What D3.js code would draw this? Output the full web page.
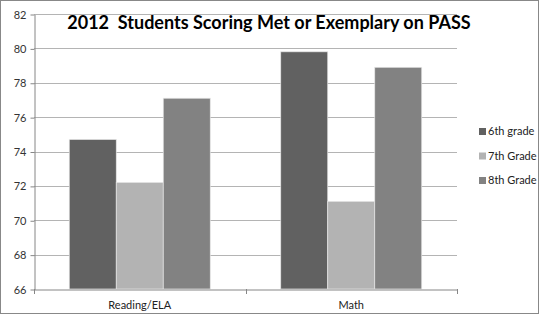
<!DOCTYPE html>
<html>
<head>
<meta charset="utf-8">
<script src="https://cdn.jsdelivr.net/npm/d3@7"></script>
<style>
  body { margin: 0; background: #fff; }
  text { font-family: Lato, "Open Sans", sans-serif; }
</style>
</head>
<body>
<svg id="chart" width="539" height="314"></svg>
<script>
var categories = ["Reading/ELA", "Math"];
var seriesNames = ["6th grade", "7th Grade", "8th Grade"];
var grade6 = [74.7, 79.8];
var grade7 = [72.2, 71.1];
var grade8 = [77.1, 78.9];
var yTicks = [66, 68, 70, 72, 74, 76, 78, 80, 82];
var colors = ["#616161", "#b3b3b3", "#828282"];

var svg = d3.select("#chart");
var plotLeft = 34, plotRight = 457, plotTop = 14, plotBottom = 289;

svg.append("rect")
    .attr("x", 0.5).attr("y", 0.5)
    .attr("width", 538).attr("height", 313)
    .attr("fill", "#fff")
    .attr("stroke", "#888");

var y = d3.scaleLinear().domain([66, 82]).range([plotBottom, plotTop]);
var x = d3.scaleBand().domain(categories).range([plotLeft, plotRight]);
// three bars plus a gap worth 1.5 bars in each category
var barW = x.bandwidth() / 4.5;
var inner = d3.scaleBand().domain(seriesNames)
    .range([barW * 0.75, barW * 3.75]);

// gridlines
svg.append("g").selectAll("line").data(yTicks.slice(1)).enter().append("line")
    .attr("x1", plotLeft).attr("x2", plotRight)
    .attr("y1", function(d) { return Math.round(y(d)) + 0.5; })
    .attr("y2", function(d) { return Math.round(y(d)) + 0.5; })
    .attr("stroke", "#b4b4b4");

var series = [grade6, grade7, grade8];
series.forEach(function(vals, i) {
    svg.append("g").selectAll("rect").data(vals).enter().append("rect")
        .attr("x", function(d, j) { return x(categories[j]) + inner(seriesNames[i]); })
        .attr("y", function(d) { return y(d); })
        .attr("width", inner.bandwidth())
        .attr("height", function(d) { return plotBottom - y(d); })
        .attr("fill", colors[i])
        .attr("stroke", "#e6e6e6")
        .attr("stroke-width", 0.7);
});

// y axis
var yAxis = svg.append("g")
    .attr("transform", "translate(" + (plotLeft + 0.5) + ",0.5)")
    .call(d3.axisLeft(y).tickValues(yTicks).tickSize(4).tickPadding(4).tickSizeOuter(0));
yAxis.select(".domain").attr("stroke", "#868686");
yAxis.selectAll(".tick line").attr("stroke", "#868686");
yAxis.selectAll(".tick text").attr("font-size", 11).attr("fill", "#333")
    .style("font-family", "Lato, sans-serif");

// x axis
var xAxis = svg.append("g")
    .attr("transform", "translate(0," + (plotBottom + 0.5) + ")")
    .call(d3.axisBottom(x).tickSize(0).tickPadding(12));
xAxis.select(".domain").attr("stroke", "#868686");
xAxis.selectAll(".tick text").attr("font-size", 11).attr("fill", "#222")
    .style("font-family", "Lato, sans-serif");
svg.append("g").selectAll("line").data([plotLeft, x("Math"), plotRight]).enter().append("line")
    .attr("x1", function(d) { return Math.round(d) + 0.5; })
    .attr("x2", function(d) { return Math.round(d) + 0.5; })
    .attr("y1", plotBottom).attr("y2", plotBottom + 5)
    .attr("stroke", "#868686");

// title
svg.append("text")
    .attr("x", 269).attr("y", 29)
    .attr("text-anchor", "middle")
    .attr("font-size", 18).attr("font-weight", "bold")
    .attr("fill", "#000")
    .style("white-space", "pre")
    .text("2012  Students Scoring Met or Exemplary on PASS");

// legend
var legend = svg.append("g").selectAll("g").data(seriesNames).enter().append("g")
    .attr("transform", function(d, i) { return "translate(479," + (135 + i * 24.5) + ")"; });
legend.append("rect")
    .attr("x", 0).attr("y", -7).attr("width", 7).attr("height", 7)
    .attr("fill", function(d, i) { return colors[i]; });
legend.append("text")
    .attr("x", 9).attr("y", 0)
    .attr("font-size", 11).attr("fill", "#222")
    .text(function(d) { return d; });
</script>
</body>
</html>
